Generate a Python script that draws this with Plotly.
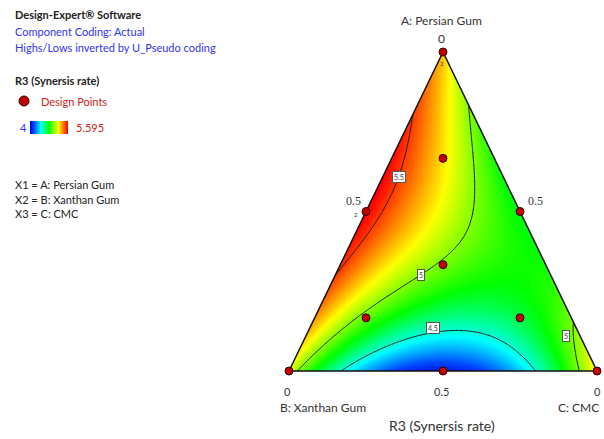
import numpy as np
import plotly.graph_objects as go

# ---- design points (mixture proportions) and response ----
comp_A = [1.0, 0.0, 0.0, 0.5, 0.5, 0.0, 2/3, 1/6, 1/6, 1/3]
comp_B = [0.0, 1.0, 0.0, 0.5, 0.0, 0.5, 1/6, 2/3, 1/6, 1/3]
comp_C = [0.0, 0.0, 1.0, 0.0, 0.5, 0.5, 1/6, 1/6, 2/3, 1/3]
r3_values = [5.30, 5.08, 5.25, 5.58, 4.78, 4.00, 5.20, 5.07, 4.75, 4.90]

z_min, z_max = 4.0, 5.595
contour_levels = [4.5, 5.0, 5.5]
vertex_labels = ["0", "0", "0"]
edge_tick_labels = ["0.5", "0.5", "0.5"]

colorscale = [[0.0, "#0000d8"], [0.1, "#0048ff"], [0.28, "#00ffff"], [0.5, "#00ff00"],
              [0.75, "#ffff00"], [1.0, "#ff0000"]]

# ---- special cubic Scheffe model fitted to the design points ----
def terms(a, b, c):
    return np.stack([a, b, c, a*b, a*c, b*c, a*b*c], axis=-1)

A = np.array(comp_A); B = np.array(comp_B); C = np.array(comp_C)
coef, *_ = np.linalg.lstsq(terms(A, B, C), np.array(r3_values), rcond=None)

# geometric coords: x = C + A/2, y = A
n = 241
gx = np.linspace(0, 1, n)
gy = np.linspace(0, 1, n)
X, Y = np.meshgrid(gx, gy)
Ag = Y
Cg = X - Y/2
Bg = 1 - Ag - Cg
Z = terms(Ag, Bg, Cg) @ coef

fig = go.Figure()
fig.add_trace(go.Heatmap(x=gx, y=gy, z=Z, zmin=z_min, zmax=z_max, colorscale=colorscale,
                         zsmooth="best", showscale=False, hoverinfo="skip"))
fig.add_trace(go.Contour(x=gx, y=gy, z=Z, showscale=False, hoverinfo="skip",
                         contours=dict(coloring="lines", start=contour_levels[0],
                                       end=contour_levels[-1], size=0.5),
                         line=dict(color="#1a1a1a", width=1),
                         colorscale=[[0, "#1a1a1a"], [1, "#1a1a1a"]]))
# white masks outside triangle
for px, py in [([0, 0.5, 0.5, -0.2, -0.2, 0], [0, 1, 1.2, 1.2, 0, 0]),
               ([1, 0.5, 0.5, 1.2, 1.2, 1], [0, 1, 1.2, 1.2, 0, 0]),
               ([-0.2, 1.2, 1.2, -0.2, -0.2], [0, 0, -0.1, -0.1, 0])]:
    fig.add_trace(go.Scatter(x=px, y=py, mode="lines", fill="toself", fillcolor="white",
                             line=dict(width=0, color="white"), hoverinfo="skip", showlegend=False))
# triangle outline
fig.add_trace(go.Scatter(x=[0, 0.5, 1, 0], y=[0, 1, 0, 0], mode="lines",
                         line=dict(color="#111111", width=1.5), hoverinfo="skip", showlegend=False))
# design points
fig.add_trace(go.Scatter(x=C + A/2, y=A, mode="markers", cliponaxis=False,
                         marker=dict(size=8, color="#c00000", line=dict(color="#3a0000", width=1)),
                         hoverinfo="skip", showlegend=False))

# legend gradient bar
fig.add_trace(go.Heatmap(z=[list(np.linspace(z_min, z_max, 80))], zmin=z_min, zmax=z_max,
                         colorscale=colorscale, showscale=False, xaxis="x2", yaxis="y2",
                         hoverinfo="skip"))

FONT = "Lato"
ann = []
def t(x, y, s, size=12, color="#333333", xanchor="center", family=FONT, ref="data"):
    d = dict(x=x, y=y, text=s, showarrow=False, xanchor=xanchor, yanchor="middle",
             font=dict(size=size, color=color, family=family))
    if ref == "paper":
        d.update(xref="paper", yref="paper")
    ann.append(d)

# pixel helpers for the main axes
x0 = -289/308; x1 = x0 + 604/308
y0 = -68/319; y1 = y0 + 439/319
def P(px, py):
    return (px - 289)/308, (371 - py)/319

t(*P(441, 20), "A: Persian Gum", 12)
t(*P(441, 38), vertex_labels[0], 12)
t(*P(353, 201), edge_tick_labels[0], 12, family="Liberation Serif")
t(*P(535, 201), edge_tick_labels[1], 12, family="Liberation Serif")
t(*P(287, 391), vertex_labels[1], 11)
t(*P(441, 391), edge_tick_labels[2], 11)
t(*P(597, 391), vertex_labels[2], 11)
t(*P(278, 407), "B: Xanthan Gum", 12, xanchor="left")
t(*P(601, 407), "C: CMC", 12, xanchor="right")
t(*P(442, 425), "R3 (Synersis rate)", 14)
# replicate marks
t(*P(356, 214), "2", 6, color="#444444")
t(*P(442, 63), "2", 6, color="#444444")

# contour labels
for (px, py, s) in [(399, 177, "5.5"), (421, 275, "5"), (433, 328, "4.5"), (566, 336, "5")]:
    xx, yy = P(px, py)
    ann.append(dict(x=xx, y=yy, text=s, showarrow=False, bgcolor="white",
                    bordercolor="#555555", borderwidth=1, borderpad=1,
                    font=dict(size=7, color="#333333", family=FONT)))

# left panel texts (paper coords)
def Q(px, py):
    return px/604, 1 - py/439
t(*Q(13, 15), "<b>Design-Expert® Software</b>", 11, color="#222222", xanchor="left", ref="paper")
t(*Q(13, 31), "Component Coding: Actual", 11, color="#3333ee", xanchor="left", ref="paper")
t(*Q(13, 47), "Highs/Lows inverted by U_Pseudo coding", 11, color="#3333ee", xanchor="left", ref="paper")
t(*Q(13, 80), "<b>R3 (Synersis rate)</b>", 11, color="#222222", xanchor="left", ref="paper")
t(*Q(39, 101), "Design Points", 11, color="#cc2222", xanchor="left", ref="paper")
t(*Q(18, 128), "4", 11, color="#3333ee", xanchor="left", ref="paper")
t(*Q(74, 128), "5.595", 11, color="#cc2222", xanchor="left", ref="paper")
t(*Q(13, 184), "X1 = A: Persian Gum", 11, color="#222222", xanchor="left", ref="paper")
t(*Q(13, 199), "X2 = B: Xanthan Gum", 11, color="#222222", xanchor="left", ref="paper")
t(*Q(13, 214), "X3 = C: CMC", 11, color="#222222", xanchor="left", ref="paper")

shapes = [dict(type="circle", xref="paper", yref="paper",
               x0=Q(19, 96)[0], x1=Q(29, 106)[0], y0=Q(19, 106)[1], y1=Q(29, 96)[1],
               fillcolor="#c00000", line=dict(color="#3a0000", width=1))]

fig.update_layout(
    width=604, height=439, margin=dict(l=0, r=0, t=0, b=0),
    paper_bgcolor="white", plot_bgcolor="white", showlegend=False,
    xaxis=dict(range=[x0, x1], visible=False, domain=[0, 1]),
    yaxis=dict(range=[y0, y1], visible=False, domain=[0, 1]),
    xaxis2=dict(domain=[30/604, 68/604], visible=False, anchor="y2"),
    yaxis2=dict(domain=[1 - 134/439, 1 - 121/439], visible=False, anchor="x2"),
    annotations=ann, shapes=shapes,
)
fig.write_html("out.html", config={"displayModeBar": False},
               post_script="document.body.style.margin='0';document.body.style.overflow='hidden';")
